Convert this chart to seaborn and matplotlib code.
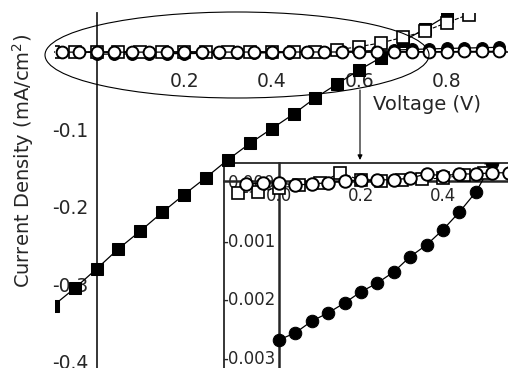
import numpy as np
import matplotlib
matplotlib.use("Agg")
import matplotlib.pyplot as plt
from matplotlib.patches import Ellipse
from matplotlib.ticker import MultipleLocator, FormatStrFormatter
import seaborn as sns

# filled squares (0.05 V steps)
v_sq = [-0.1, -0.05, 0.0, 0.05, 0.1, 0.15, 0.2, 0.25, 0.3, 0.35, 0.4, 0.45,
        0.5, 0.55, 0.6, 0.65, 0.7, 0.75, 0.8]
j_filled_sq = [-0.328, -0.305, -0.280, -0.254, -0.231, -0.207, -0.184, -0.162,
               -0.139, -0.118, -0.099, -0.080, -0.059, -0.041, -0.023, -0.007,
               0.014, 0.030, 0.047]

# open squares (0.05 V steps)
v_osq = [-0.1, -0.05, 0.0, 0.05, 0.1, 0.15, 0.2, 0.25, 0.3, 0.35, 0.4, 0.45,
         0.5, 0.55, 0.6, 0.65, 0.7, 0.75, 0.8, 0.85]
j_open_sq = [-0.0002, -0.00018, -0.00012, -0.00007, -0.00003, 0.00014, 0.00001,
             0.0, 0.00001, 0.00003, 0.00005, 0.0001, 0.00014, 0.003, 0.007,
             0.012, 0.019, 0.027, 0.038, 0.0485]

# filled circles (0.04 V steps)
v_fc = [0.0, 0.04, 0.08, 0.12, 0.16, 0.2, 0.24, 0.28, 0.32, 0.36, 0.4, 0.44,
        0.48, 0.52, 0.56, 0.6, 0.64, 0.68, 0.72, 0.76, 0.8, 0.84, 0.88, 0.92]
j_filled_c = [-0.00271, -0.00259, -0.00239, -0.00225, -0.00208, -0.00189,
              -0.00174, -0.00155, -0.00129, -0.00109, -0.00083, -0.00053,
              -0.00019, 0.0003, 0.0008, 0.0014, 0.002, 0.0027, 0.0034, 0.0041,
              0.0047, 0.0052, 0.0057, 0.0062]

# open circles (0.04 V steps)
v_oc = [-0.08, -0.04, 0.0, 0.04, 0.08, 0.12, 0.16, 0.2, 0.24, 0.28, 0.32, 0.36,
        0.4, 0.44, 0.48, 0.52, 0.56, 0.6, 0.64, 0.68, 0.72, 0.76, 0.8, 0.84,
        0.88, 0.92]
j_open_c = [-0.00005, -0.00004, -0.00003, -0.00007, -0.00005, -0.00003, 0.0,
            0.00002, 0.00002, 0.00002, 0.00005, 0.00012, 0.00009, 0.00012,
            0.00012, 0.00014, 0.00014, 0.0002, 0.0003, 0.0004, 0.0005, 0.0006,
            0.0007, 0.0008, 0.0009, 0.001]

main_yticks = [-0.1, -0.2, -0.3, -0.4]
main_xticks = [0.2, 0.4, 0.6, 0.8]
inset_xticks = [0.0, 0.2, 0.4]
inset_yticks = [0.0, -0.001, -0.002, -0.003]

sns.set_style("white")
plt.rcParams['font.family'] = ['DejaVu Sans']
plt.rcParams['axes.unicode_minus'] = False

fig = plt.figure(figsize=(5.08, 3.68), dpi=100)
fig.patch.set_facecolor("white")

W, H = 508, 368


def draw_series(ax, ms_sq, ms_c):
    sns.lineplot(x=v_sq, y=j_filled_sq, ax=ax, color="k", lw=0.9, marker="s",
                 markersize=ms_sq, markerfacecolor="k", markeredgecolor="k",
                 zorder=3)
    sns.lineplot(x=v_fc, y=j_filled_c, ax=ax, color="k", lw=0.9, marker="o",
                 markersize=ms_c, markerfacecolor="k", markeredgecolor="k",
                 zorder=4)
    sns.lineplot(x=v_osq, y=j_open_sq, ax=ax, color="k", lw=0.8, ls="--",
                 marker="s", markersize=ms_sq, markerfacecolor="white",
                 markeredgecolor="k", markeredgewidth=1.2, zorder=5)
    sns.lineplot(x=v_oc, y=j_open_c, ax=ax, color="k", lw=0.9, marker="o",
                 markersize=ms_c, markerfacecolor="white", markeredgecolor="k",
                 markeredgewidth=1.4, zorder=6)


# inset frame
fr = fig.add_axes([224 / W, 0, (W - 224) / W, (H - 163) / H])
fr.set_zorder(1)
fr.set_facecolor("white")
fr.set_xticks([])
fr.set_yticks([])
for s in ["right", "bottom"]:
    fr.spines[s].set_visible(False)
for s in ["left", "top"]:
    fr.spines[s].set_linewidth(1.3)

# inset data axes
ins = fig.add_axes([224 / W, 0, (W - 224) / W, (H - 163) / H])
ins.set_zorder(2)
ins.patch.set_visible(False)
draw_series(ins, 8.5, 9)
ins.set_xlim(-0.134, 0.5585)
ins.set_ylim(-0.00319, 0.000307)
ins.spines["left"].set_position(("data", 0))
ins.spines["bottom"].set_position(("data", 0))
ins.spines["right"].set_visible(False)
ins.spines["top"].set_visible(False)
for s in ["left", "bottom"]:
    ins.spines[s].set_linewidth(1.8)
ins.set_xticks(inset_xticks)
ins.set_yticks(inset_yticks)
ins.xaxis.set_major_formatter(FormatStrFormatter("%.1f"))
ins.yaxis.set_major_formatter(FormatStrFormatter("%.3f"))
ins.yaxis.set_minor_locator(MultipleLocator(0.0005))
ins.tick_params(which="major", direction="inout", length=7, width=1.3,
                labelsize=12)
ins.tick_params(which="minor", direction="inout", length=5, width=1.2)
ins.tick_params(axis="y", pad=-1)
ins.tick_params(axis="x", pad=1)
ins.set_xlabel("")
ins.set_ylabel("")

# main axes
ax = fig.add_axes([55 / W, 0, (W - 55) / W, (H - 13) / H])
ax.set_zorder(3)
ax.patch.set_visible(False)
draw_series(ax, 8.5, 8.5)
ax.set_xlim(-0.095, 0.94)
ax.set_ylim(-0.408, 0.0505)
ax.spines["left"].set_position(("data", 0))
ax.spines["bottom"].set_position(("data", 0))
ax.spines["right"].set_visible(False)
ax.spines["top"].set_visible(False)
for s in ["left", "bottom"]:
    ax.spines[s].set_linewidth(1.3)
ax.set_xticks(main_xticks)
ax.set_yticks(main_yticks)
ax.xaxis.set_major_formatter(FormatStrFormatter("%.1f"))
ax.yaxis.set_major_formatter(FormatStrFormatter("%.1f"))
ax.yaxis.set_minor_locator(MultipleLocator(0.05))
ax.tick_params(which="major", direction="inout", length=9, width=1.2,
               labelsize=13.5)
ax.tick_params(which="minor", direction="inout", length=5, width=1.2)
ax.tick_params(axis="y", pad=1.5)
ax.tick_params(axis="x", pad=9.5)

ax.set_xlabel("Voltage (V)", fontsize=14, va="top")
ax.xaxis.set_label_coords(0.821, 0.769)
ax.set_ylabel("Current Density (mA/cm$^2$)", fontsize=14)
ax.yaxis.set_label_coords(-0.043, 0.583)

# ellipse around the near-zero curves and arrow to the inset
el = Ellipse((237 / W, 1 - 55 / H), 384 / W, 86 / H, transform=fig.transFigure,
             fill=False, ec="k", lw=0.8, zorder=10)
fig.add_artist(el)
ax.annotate("", xy=(360 / W, 1 - 160 / H), xytext=(360 / W, 1 - 90 / H),
            xycoords="figure fraction", textcoords="figure fraction",
            arrowprops=dict(arrowstyle="-|>", lw=0.8, color="k",
                            mutation_scale=7, shrinkA=0, shrinkB=0))

fig.savefig("out.png", dpi=100, facecolor="white")
